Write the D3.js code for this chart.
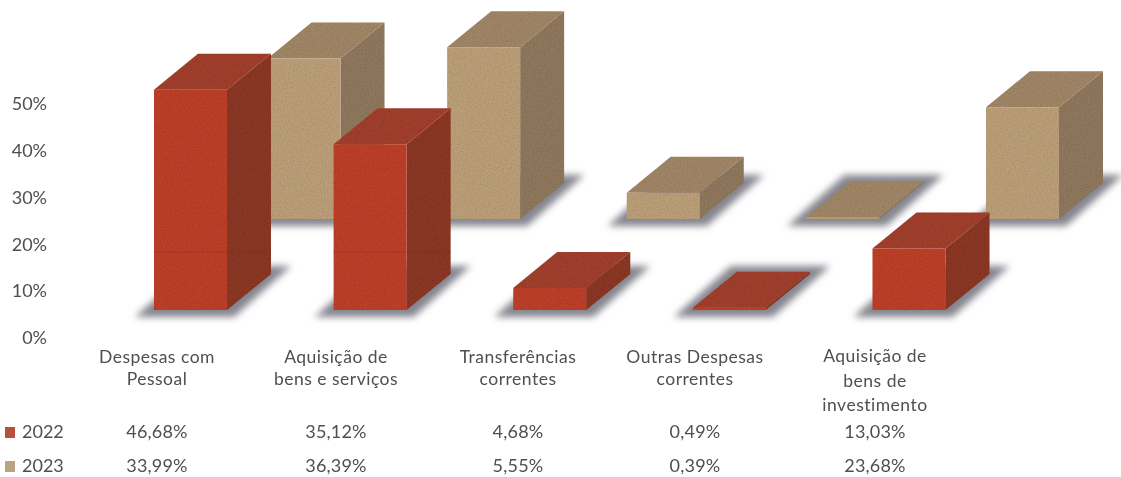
<!DOCTYPE html>
<html><head><meta charset="utf-8">
<script src="https://cdnjs.cloudflare.com/ajax/libs/d3/7.8.5/d3.min.js"></script>
<style>html,body{margin:0;padding:0;background:#fff}svg{display:block}text{font-family:Lato,sans-serif;fill:#4f4f4f}</style>
</head><body><svg id="c" width="1121" height="477"></svg>
<script>
const categories = ["Despesas com Pessoal","Aquisição de bens e serviços","Transferências correntes","Outras Despesas correntes","Aquisição de bens de investimento"];
const categoryLines = [["Despesas com","Pessoal"],["Aquisição de","bens e serviços"],["Transferências","correntes"],["Outras Despesas","correntes"],["Aquisição de","bens de","investimento"]];
const series2022 = [46.68,35.12,4.68,0.49,13.03];
const series2023 = [33.99,36.39,5.55,0.39,23.68];
const labels2022 = ["46,68%","35,12%","4,68%","0,49%","13,03%"];
const labels2023 = ["33,99%","36,39%","5,55%","0,39%","23,68%"];
const axisTicks = [0,10,20,30,40,50];

const svg = d3.select("#c");
const defs = svg.append("defs");
const blur = defs.append("filter").attr("id","shadow").attr("x","-30%").attr("y","-50%").attr("width","160%").attr("height","200%");
blur.append("feGaussianBlur").attr("stdDeviation",3.5);
const soft = defs.append("filter").attr("id","soft");
soft.append("feGaussianBlur").attr("stdDeviation",0.35);
const grain = defs.append("filter").attr("id","grain").attr("x","0").attr("y","0").attr("width","100%").attr("height","100%");
grain.append("feTurbulence").attr("type","fractalNoise").attr("baseFrequency",0.7).attr("numOctaves",2).attr("seed",4).attr("result","n");
grain.append("feColorMatrix").attr("in","n").attr("type","matrix").attr("values","0 0 0 0 0  0 0 0 0 0  0 0 0 0 0  0 0 0 0.5 -0.2").attr("result","a");
grain.append("feComposite").attr("in","a").attr("in2","SourceGraphic").attr("operator","in").attr("result","g");
const mg = grain.append("feMerge");
mg.append("feMergeNode").attr("in","SourceGraphic");
mg.append("feMergeNode").attr("in","g");

const x = d3.scalePoint().domain(categories).range([154,872.5]);
const h = d3.scaleLinear().domain([0,50]).range([0,236]);
const yAxisScale = d3.scaleLinear().domain([0,50]).range([338,104]);
const barW = 73, dx = 44, dy = 36;

const palette = {
  y2022:{front:"#bd412c",top:"#a0402e",side:"#8b3725",legend:"#b9503c"},
  y2023:{front:"#bb9f78",top:"#a08666",side:"#8f785d",legend:"#b9a382"}
};
const pts = a => a.map(p=>p.join(",")).join(" ");

function drawSeries(values, base, xOff, colors, cls){
  const g = svg.append("g").attr("class",cls);
  const data = categories.map((c,i)=>({c,v:values[i]}));
  g.selectAll("polygon.sh").data(data).join("polygon").attr("class","sh")
    .attr("fill","#85858f").attr("filter","url(#shadow)")
    .attr("points",d=>{const l=x(d.c)+xOff;return pts([[l-19,base+7],[l+barW+7,base+7],[l+barW+dx+20,base-dy-8],[l+dx-6,base-dy-8]]);});
  const b = g.append("g").attr("filter","url(#grain)");
  data.forEach(d=>{
    const l=x(d.c)+xOff, t=base-h(d.v), r=l+barW;
    b.append("polygon").attr("fill",colors.side).attr("points",pts([[r,t],[r+dx,t-dy],[r+dx,base-dy],[r,base]]));
    b.append("polygon").attr("fill",colors.top).attr("points",pts([[l,t],[l+dx,t-dy],[r+dx,t-dy],[r,t]]));
    b.append("rect").attr("x",l).attr("y",t).attr("width",barW).attr("height",base-t).attr("fill",colors.front);
  });
}
drawSeries(series2023,219,113.5,palette.y2023,"s2023");
drawSeries(series2022,310,0,palette.y2022,"s2022");

// faint scan seam across the taller red bars
svg.append("g").selectAll("line").data(categories.filter((c,i)=>series2022[i]>20)).join("line")
  .attr("x1",d=>x(d)).attr("x2",d=>x(d)+barW+dx).attr("y1",252).attr("y2",252)
  .attr("stroke","#7e2414").attr("stroke-opacity",0.3);

const txt = svg.append("g").attr("filter","url(#soft)");
const ax = txt.append("g").attr("transform","translate(47,0)")
  .call(d3.axisLeft(yAxisScale).tickValues(axisTicks).tickSize(0).tickPadding(0).tickFormat(d=>d+"%"));
ax.select(".domain").remove();
ax.selectAll("text").attr("font-size",18).style("font-family","Lato,sans-serif").attr("fill","#4f4f4f");

const centers = [157,336,518,695,875];
const catX = d3.scaleOrdinal().domain(categories).range(centers);
categories.forEach((c,i)=>{
  const lines = categoryLines[i];
  const startY = lines.length===3 ? 362 : 363;
  const step = lines.length===3 ? 24.5 : 22;
  txt.append("g").selectAll("text").data(lines).join("text")
    .attr("x",catX(c)).attr("y",(d,j)=>startY+j*step)
    .attr("text-anchor","middle").attr("font-size",17.5).attr("letter-spacing",0.5).text(d=>d);
  txt.append("text").attr("x",catX(c)).attr("y",438).attr("text-anchor","middle").attr("font-size",18).attr("letter-spacing",0.2).text(labels2022[i]);
  txt.append("text").attr("x",catX(c)).attr("y",472).attr("text-anchor","middle").attr("font-size",18).attr("letter-spacing",0.2).text(labels2023[i]);
});
[["2022",438,palette.y2022.legend],["2023",472,palette.y2023.legend]].forEach(([n,y,col])=>{
  txt.append("rect").attr("x",5).attr("y",y-11).attr("width",10).attr("height",11).attr("fill",col);
  txt.append("text").attr("x",22).attr("y",y).attr("font-size",18).text(n);
});
</script></body></html>
